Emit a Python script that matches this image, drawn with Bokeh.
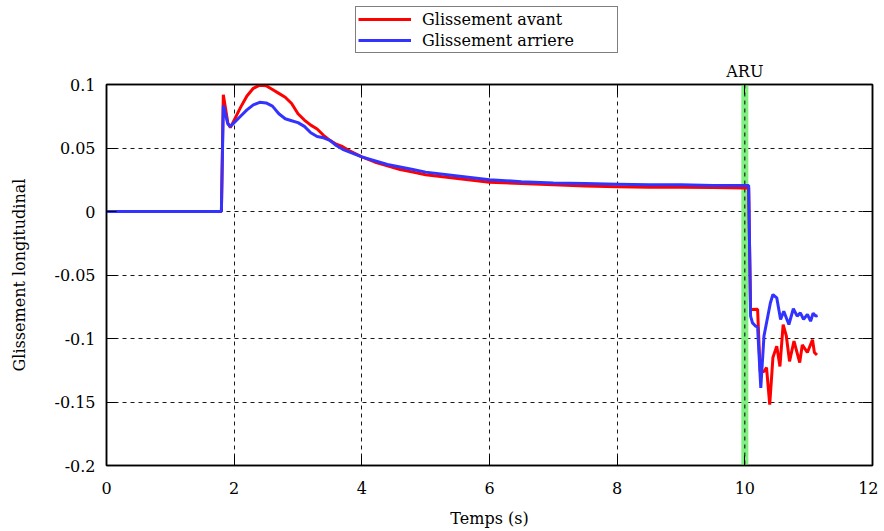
from bokeh.plotting import figure
from bokeh.layouts import column
from bokeh.models import (Legend, LegendItem, BoxAnnotation, Span, FixedTicker,
                          CustomJSTickFormatter, LinearAxis, Range1d)
from bokeh.embed import file_html
from bokeh.resources import INLINE

# ---- data ----
t_avant = [0, 1.8, 1.83, 1.9, 1.94, 2.0, 2.1, 2.2, 2.3, 2.4, 2.5, 2.6, 2.7, 2.8, 2.9, 3.0,
           3.1, 3.2, 3.3, 3.4, 3.5, 3.6, 3.7, 3.8, 4.0, 4.2, 4.4, 4.6, 4.8, 5.0, 5.5, 6.0,
           6.5, 7.0, 7.5, 8.0, 8.5, 9.0, 9.5, 10.0, 10.06, 10.09, 10.2, 10.24, 10.3, 10.34,
           10.39, 10.44, 10.5, 10.55, 10.6, 10.65, 10.7, 10.77, 10.86, 10.9, 10.98, 11.06,
           11.09, 11.13]
g_avant = [0, 0, 0.092, 0.070, 0.066, 0.072, 0.082, 0.091, 0.097, 0.0995, 0.099, 0.096,
           0.093, 0.090, 0.085, 0.077, 0.072, 0.068, 0.065, 0.060, 0.056, 0.053, 0.051,
           0.048, 0.043, 0.039, 0.036, 0.033, 0.031, 0.029, 0.026, 0.023, 0.022, 0.021,
           0.020, 0.0195, 0.019, 0.019, 0.0188, 0.0186, 0.0186, -0.0772, -0.077, -0.126,
           -0.126, -0.123, -0.152, -0.115, -0.106, -0.122, -0.089, -0.098, -0.118, -0.102,
           -0.119, -0.105, -0.111, -0.101, -0.111, -0.113]

t_arriere = [0, 1.8, 1.83, 1.9, 1.94, 2.0, 2.1, 2.2, 2.3, 2.4, 2.5, 2.6, 2.7, 2.8, 2.9, 3.0,
             3.1, 3.2, 3.3, 3.4, 3.5, 3.6, 3.7, 3.8, 4.0, 4.2, 4.4, 4.6, 4.8, 5.0, 5.5, 6.0,
             6.5, 7.0, 7.5, 8.0, 8.5, 9.0, 9.5, 10.0, 10.06, 10.09, 10.12, 10.17, 10.2,
             10.25, 10.3, 10.4, 10.44, 10.5, 10.56, 10.61, 10.69, 10.76, 10.82, 10.87,
             10.92, 10.98, 11.03, 11.07, 11.11, 11.14]
g_arriere = [0, 0, 0.0835, 0.069, 0.067, 0.070, 0.075, 0.080, 0.084, 0.086, 0.0855, 0.083,
             0.077, 0.073, 0.0715, 0.070, 0.067, 0.062, 0.059, 0.058, 0.056, 0.052, 0.049,
             0.047, 0.043, 0.040, 0.037, 0.035, 0.033, 0.031, 0.028, 0.025, 0.0235, 0.0225,
             0.022, 0.0215, 0.021, 0.021, 0.0205, 0.0205, 0.0205, -0.0824, -0.0877, -0.0903,
             -0.091, -0.139, -0.098, -0.072, -0.0654, -0.068, -0.085, -0.0785, -0.089,
             -0.0766, -0.0824, -0.0798, -0.085, -0.081, -0.0864, -0.080, -0.0824, -0.082]

aru_time = 10
aru_label = "ARU"
x_ticks = [0, 2, 4, 6, 8, 10, 12]
y_ticks = [-0.2, -0.15, -0.1, -0.05, 0, 0.05, 0.1]
label_avant = "Glissement avant"
label_arriere = "Glissement arriere"
color_avant = "#ff0000"
color_arriere = "#3333ff"

FONT = "DejaVu Serif"
FS = "16px"
H_LEG = 57

# ---------- main plot ----------
p = figure(frame_width=766, frame_height=381, x_range=Range1d(0, 12),
           y_range=Range1d(-0.2, 0.1), output_backend="svg", toolbar_location=None,
           min_border_left=106, min_border_right=6, min_border_top=27, min_border_bottom=62)
p.background_fill_color = "white"
p.border_fill_color = "white"
p.outline_line_color = "black"
p.outline_line_width = 1.5

fmt = CustomJSTickFormatter(code="return Number(tick.toFixed(2)).toString();")

for ax, ticks in ((p.xaxis[0], x_ticks), (p.yaxis[0], y_ticks)):
    ax.ticker = FixedTicker(ticks=ticks)
    ax.major_tick_in = 10
    ax.major_tick_out = 0
    ax.minor_tick_line_color = None
    ax.axis_line_color = "black"
    ax.axis_line_width = 1.5
    ax.major_tick_line_color = "black"
    ax.major_label_text_font = FONT
    ax.major_label_text_font_size = FS
    ax.major_label_text_color = "black"
    ax.axis_label_text_font = FONT
    ax.axis_label_text_font_size = FS
    ax.axis_label_text_font_style = "normal"
    ax.axis_label_text_color = "black"
    ax.formatter = fmt

p.xaxis.major_label_standoff = 16
p.xaxis.axis_label = "Temps (s)"
p.xaxis.axis_label_standoff = 12
p.yaxis.major_label_standoff = 11
p.yaxis.axis_label = "Glissement longitudinal"
p.yaxis.axis_label_standoff = 22

right_ax = LinearAxis(ticker=FixedTicker(ticks=y_ticks), major_tick_in=10, major_tick_out=0,
                      minor_tick_line_color=None, axis_line_color="black", axis_line_width=1.5,
                      major_label_text_font_size="0px", major_label_standoff=0,
                      major_label_text_color=None)
p.add_layout(right_ax, "right")

top_labels = {t: "" for t in x_ticks}
top_labels[aru_time] = aru_label
top_ax = LinearAxis(ticker=FixedTicker(ticks=x_ticks), major_tick_in=10, major_tick_out=0,
                    minor_tick_line_color=None, axis_line_color="black", axis_line_width=1.5,
                    major_label_overrides=top_labels, major_label_standoff=4,
                    major_label_text_font=FONT, major_label_text_font_size=FS,
                    major_label_text_color="black")
p.add_layout(top_ax, "above")

for g, ticks in ((p.xgrid[0], x_ticks), (p.ygrid[0], y_ticks)):
    g.ticker = FixedTicker(ticks=ticks)
    g.grid_line_color = "black"
    g.grid_line_dash = "4 4"
    g.grid_line_width = 1
    g.grid_line_alpha = 0.9

band = BoxAnnotation(left=aru_time - 0.055, right=aru_time + 0.055, fill_color="#80f080",
                     fill_alpha=1, line_color=None, level="underlay")
p.add_layout(band)
p.add_layout(Span(location=aru_time, dimension="height", line_color="black",
                  line_dash="4 4", line_width=1, level="underlay"))

p.line(t_avant, g_avant, line_color=color_avant, line_width=3)
p.line(t_arriere, g_arriere, line_color=color_arriere, line_width=3)

# ---------- legend strip above (same series, drawn outside its visible range) ----------
pl = figure(frame_width=766, frame_height=H_LEG, x_range=Range1d(-2, -1),
            y_range=Range1d(5, 6), output_backend="svg", toolbar_location=None,
            x_axis_type=None, y_axis_type=None, min_border=0)
pl.outline_line_color = None
pl.xgrid.visible = False
pl.ygrid.visible = False
pl.background_fill_color = "white"
pl.border_fill_color = "white"
la = pl.line(t_avant, g_avant, line_color=color_avant, line_width=3)
lb = pl.line(t_arriere, g_arriere, line_color=color_arriere, line_width=3)
legend = Legend(items=[LegendItem(label=label_avant, renderers=[la]),
                       LegendItem(label=label_arriere, renderers=[lb])],
                location=(355, H_LEG - 53), orientation="vertical",
                label_text_font=FONT, label_text_font_size=FS, label_text_color="black",
                glyph_width=53, glyph_height=20, label_height=20, label_width=193,
                label_standoff=11, spacing=1, padding=2, margin=0,
                border_line_color="black", border_line_width=1.2,
                background_fill_color="white", background_fill_alpha=1)
pl.add_layout(legend, "center")

layout = column(pl, p, spacing=0)
open("out.html", "w").write(file_html(layout, INLINE))
